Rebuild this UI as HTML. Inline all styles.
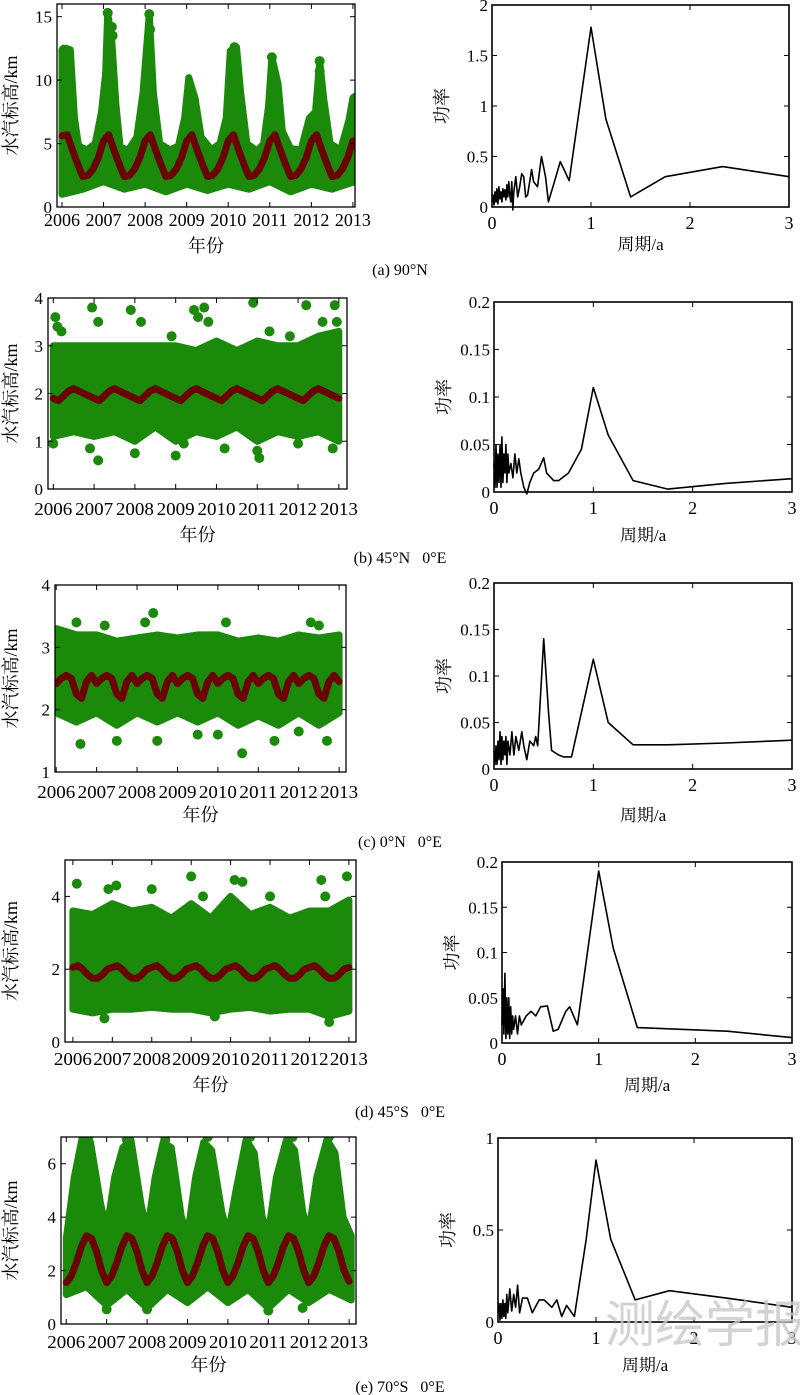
<!DOCTYPE html>
<html><head><meta charset="utf-8">
<style>
html,body{margin:0;padding:0;background:#fff;}
svg{display:block;}
text{font-family:"Liberation Serif","Noto Serif CJK SC",serif;fill:#000;}
</style></head>
<body>
<svg id="fig" width="800" height="1395" viewBox="0 0 800 1395" xmlns="http://www.w3.org/2000/svg"></svg>
<script>
// ---------- data ----------
const years = [2006,2007,2008,2009,2010,2011,2012,2013];
const redA = [5.6,5.7,4.5,3.4,2.4,2.5,3.0,3.9, 5.2,5.7,4.5,3.4,2.4,2.5,3.0,3.9, 5.2,5.7,4.5,3.4,2.4,2.5,3.0,3.9, 5.2,5.7,4.5,3.4,2.4,2.5,3.0,3.9, 5.2,5.7,4.5,3.4,2.4,2.5,3.0,3.9, 5.2,5.7,4.5,3.4,2.4,2.5,3.0,3.9, 5.2,5.7,4.5,3.4,2.4,2.5,3.0,3.9, 5.2];
const upperA = [[2006.0,12.4],[2006.1,12.5],[2006.2,12.4],[2006.3,7],[2006.4,4.8],[2006.6,4.5],[2006.8,5],[2006.95,7.5],[2007.05,10.5],[2007.1,15.3],[2007.2,13],[2007.3,8],[2007.4,4.7],[2007.6,4.5],[2007.8,5.5],[2007.95,9],[2008.1,15.2],[2008.2,9],[2008.35,5],[2008.6,4.5],[2008.8,4.8],[2008.95,7],[2009.05,10.2],[2009.2,8.6],[2009.35,5.5],[2009.6,4.5],[2009.8,5],[2009.95,7],[2010.05,12.3],[2010.2,12.6],[2010.3,9],[2010.45,5],[2010.7,4.4],[2010.85,5],[2010.97,8],[2011.05,11.8],[2011.2,9.7],[2011.3,6],[2011.5,4.6],[2011.75,4.5],[2011.95,7],[2012.1,7.5],[2012.2,11.5],[2012.3,8.5],[2012.45,5],[2012.7,4.5],[2012.9,6.8],[2013.0,8.6],[2013.05,7]];
const lowerA = [[2006.0,1.0],[2006.5,1.4],[2007.0,2.0],[2007.5,1.4],[2008.0,1.8],[2008.5,1.2],[2009.0,1.8],[2009.5,1.3],[2010.0,1.8],[2010.5,1.4],[2011.0,2.0],[2011.5,1.2],[2012.0,1.8],[2012.5,1.4],[2013.05,2.0]];
const outA = [[2007.1,15.3],[2008.1,15.2],[2008.12,14],[2007.2,14.2],[2007.22,13.5],[2010.15,12.6],[2011.05,11.8],[2012.2,11.5],[2012.2,10.7],[2013.05,8.6],[2006.05,12.4]];

const redB = [1.9,1.85,1.95,2.05,2.1,2.05,2.0,1.95, 1.9,1.85,1.95,2.05,2.1,2.05,2.0,1.95, 1.9,1.85,1.95,2.05,2.1,2.05,2.0,1.95, 1.9,1.85,1.95,2.05,2.1,2.05,2.0,1.95, 1.9,1.85,1.95,2.05,2.1,2.05,2.0,1.95, 1.9,1.85,1.95,2.05,2.1,2.05,2.0,1.95, 1.9,1.85,1.95,2.05,2.1,2.05,2.0,1.95, 1.9];
const upperB = [[2006.0,3.0],[2006.5,3.0],[2007.0,3.0],[2007.5,3.0],[2008.0,3.0],[2008.5,3.0],[2009.0,3.0],[2009.5,2.9],[2010.0,3.1],[2010.5,2.9],[2011.0,3.1],[2011.5,3.0],[2012.0,3.0],[2012.5,3.2],[2013.0,3.3]];
const lowerB = [[2006.0,1.1],[2006.5,1.2],[2007.0,1.1],[2007.5,1.2],[2008.0,1.0],[2008.5,1.3],[2009.0,1.0],[2009.5,1.2],[2010.0,1.1],[2010.5,1.3],[2011.0,1.0],[2011.5,1.2],[2012.0,1.1],[2012.5,1.2],[2013.0,1.0]];
const outB = [[2006.05,3.6],[2006.1,3.4],[2006.2,3.3],[2006.95,3.8],[2007.1,3.5],[2007.9,3.75],[2008.15,3.5],[2008.9,3.2],[2009.45,3.75],[2009.55,3.6],[2009.7,3.8],[2009.8,3.5],[2010.9,3.9],[2011.3,3.3],[2011.8,3.2],[2012.2,3.85],[2012.6,3.5],[2012.9,3.85],[2012.95,3.5],[2006.0,0.95],[2006.9,0.85],[2007.1,0.6],[2008.0,0.75],[2009.0,0.7],[2009.2,0.95],[2010.2,0.85],[2011.05,0.65],[2011.0,0.8],[2012.0,0.95],[2012.85,0.85]];

const redC = [2.42,2.5,2.55,2.5,2.25,2.18,2.45,2.55, 2.42,2.5,2.55,2.5,2.25,2.18,2.45,2.55, 2.42,2.5,2.55,2.5,2.25,2.18,2.45,2.55, 2.42,2.5,2.55,2.5,2.25,2.18,2.45,2.55, 2.42,2.5,2.55,2.5,2.25,2.18,2.45,2.55, 2.42,2.5,2.55,2.5,2.25,2.18,2.45,2.55, 2.42,2.5,2.55,2.5,2.25,2.18,2.45,2.55, 2.45];
const upperC = [[2006.0,3.3],[2006.5,3.2],[2007.0,3.2],[2007.5,3.1],[2008.0,3.15],[2008.5,3.2],[2009.0,3.15],[2009.5,3.2],[2010.0,3.2],[2010.5,3.1],[2011.0,3.15],[2011.5,3.1],[2012.0,3.2],[2012.5,3.15],[2013.0,3.2]];
const lowerC = [[2006.0,1.95],[2006.5,1.8],[2007.0,1.95],[2007.5,1.75],[2008.0,1.95],[2008.5,1.8],[2009.0,1.95],[2009.5,1.8],[2010.0,1.95],[2010.5,1.75],[2011.0,1.9],[2011.5,1.75],[2012.0,1.95],[2012.5,1.75],[2013.0,1.95]];
const outC = [[2006.5,3.4],[2007.2,3.35],[2008.4,3.55],[2008.2,3.4],[2010.2,3.4],[2012.3,3.4],[2012.5,3.35],[2006.6,1.45],[2007.5,1.5],[2008.5,1.5],[2009.5,1.6],[2010.0,1.6],[2010.6,1.3],[2011.4,1.5],[2012.0,1.65],[2012.7,1.5]];

const redD = [2.05,2.1,2.0,1.85,1.75,1.75,1.85,2.0, 2.05,2.1,2.0,1.85,1.75,1.75,1.85,2.0, 2.05,2.1,2.0,1.85,1.75,1.75,1.85,2.0, 2.05,2.1,2.0,1.85,1.75,1.75,1.85,2.0, 2.05,2.1,2.0,1.85,1.75,1.75,1.85,2.0, 2.05,2.1,2.0,1.85,1.75,1.75,1.85,2.0, 2.05,2.1,2.0,1.85,1.75,1.75,1.85,2.0, 2.05];
const upperD = [[2006.0,3.6],[2006.5,3.5],[2007.0,3.8],[2007.5,3.6],[2008.0,3.7],[2008.5,3.4],[2009.0,3.8],[2009.5,3.4],[2010.0,4.0],[2010.5,3.5],[2011.0,3.7],[2011.5,3.4],[2012.0,3.6],[2012.5,3.6],[2013.0,3.9]];
const lowerD = [[2006.0,0.9],[2006.5,0.8],[2007.0,0.9],[2007.5,0.9],[2008.0,0.95],[2008.5,0.9],[2009.0,0.9],[2009.5,0.8],[2010.0,0.9],[2010.5,0.95],[2011.0,0.85],[2011.5,0.9],[2012.0,0.9],[2012.5,0.7],[2013.0,0.85]];
const outD = [[2006.1,4.35],[2006.9,4.2],[2007.1,4.3],[2008.0,4.2],[2009.0,4.55],[2009.3,4.0],[2010.1,4.45],[2010.3,4.4],[2011.0,4.0],[2012.3,4.45],[2012.4,4.0],[2012.95,4.55],[2006.8,0.65],[2009.6,0.7],[2012.5,0.55]];

const redE = [1.55,1.8,2.3,2.9,3.3,3.2,2.7,2.0, 1.55,1.8,2.3,2.9,3.3,3.2,2.7,2.0, 1.55,1.8,2.3,2.9,3.3,3.2,2.7,2.0, 1.55,1.8,2.3,2.9,3.3,3.2,2.7,2.0, 1.55,1.8,2.3,2.9,3.3,3.2,2.7,2.0, 1.55,1.8,2.3,2.9,3.3,3.2,2.7,2.0, 1.55,1.8,2.3,2.9,3.3,3.2,2.7,2.0, 1.6];
const upperE = [[2006.0,3.2],[2006.2,5.5],[2006.4,7],[2006.6,6.8],[2006.85,4.5],[2007.0,3.5],[2007.2,5.5],[2007.4,6.6],[2007.6,6.9],[2007.85,4.5],[2008.0,3.4],[2008.2,5.5],[2008.4,6.8],[2008.6,6.6],[2008.85,4],[2009.0,3.3],[2009.2,5.5],[2009.4,6.8],[2009.6,6.5],[2009.85,4.2],[2010.0,3.3],[2010.2,5],[2010.45,6.9],[2010.65,6.4],[2010.85,4],[2011.0,3.4],[2011.2,5.5],[2011.45,6.9],[2011.65,6.5],[2011.85,4.2],[2012.0,3.4],[2012.2,5.5],[2012.45,6.9],[2012.65,6.4],[2012.85,4],[2013.05,3.3]];
const lowerE = [[2006.0,1.1],[2006.5,1.4],[2007.0,0.7],[2007.5,1.3],[2008.0,0.6],[2008.5,1.3],[2009.0,0.8],[2009.5,1.4],[2010.0,0.8],[2010.5,1.3],[2011.0,0.6],[2011.5,1.3],[2012.0,0.8],[2012.5,1.3],[2013.05,0.9]];
const outE = [[2006.55,7],[2007.5,6.9],[2008.45,6.9],[2009.5,7],[2010.55,7],[2011.6,7],[2012.5,7],[2007.0,0.55],[2008.0,0.55],[2011.0,0.5],[2011.85,0.6]];

const perA = [0,0.01,0.02,0.03,0.04,0.05,0.06,0.07,0.08,0.09,0.1,0.11,0.12,0.13,0.14,0.15,0.16,0.17,0.18,0.19,0.2,0.21,0.22,0.24,0.26,0.28,0.3,0.32,0.34,0.36,0.4,0.42,0.46,0.5,0.54,0.57,0.63,0.69,0.78,1.0,1.15,1.4,1.75,2.33,3.0];
const powA = [0.05,0.12,0.02,0.15,0.05,0.18,0.03,0.2,0.08,0.15,0.05,0.18,0.1,0.17,0.07,0.22,0.1,0.25,0.12,0.05,0.25,-0.03,0.15,0.3,0.1,0.2,0.33,0.3,0.1,0.12,0.37,0.25,0.2,0.5,0.3,0.05,0.25,0.45,0.26,1.78,0.87,0.1,0.3,0.4,0.3];
const perB = [0,0.01,0.02,0.03,0.04,0.05,0.06,0.07,0.08,0.09,0.1,0.11,0.12,0.13,0.14,0.15,0.17,0.19,0.21,0.23,0.25,0.27,0.3,0.33,0.36,0.4,0.45,0.5,0.53,0.6,0.65,0.75,0.88,1.0,1.15,1.4,1.75,2.33,3.0];
const powB = [0.03,0.005,0.05,0.005,0.04,0.01,0.05,0.005,0.058,0.01,0.04,0.02,0.05,0.01,0.04,0.02,0.03,0.015,0.04,0.02,0.035,0.02,0.005,-0.002,0.01,0.02,0.024,0.036,0.02,0.012,0.012,0.02,0.045,0.11,0.06,0.012,0.003,0.009,0.014];
const perC = [0,0.01,0.02,0.03,0.04,0.05,0.06,0.07,0.08,0.09,0.1,0.11,0.12,0.13,0.14,0.16,0.18,0.2,0.22,0.25,0.28,0.3,0.33,0.36,0.4,0.42,0.44,0.5,0.55,0.58,0.65,0.7,0.78,1.0,1.15,1.4,1.75,2.33,3.0];
const powC = [0.02,0.005,0.025,0.005,0.03,0.01,0.04,0.005,0.035,0.01,0.03,0.015,0.035,0.005,0.03,0.015,0.04,0.015,0.035,0.02,0.04,0.025,0.01,0.03,0.025,0.035,0.025,0.14,0.06,0.02,0.015,0.013,0.013,0.118,0.05,0.026,0.026,0.028,0.031];
const perD = [0,0.01,0.02,0.03,0.04,0.05,0.06,0.07,0.08,0.09,0.1,0.11,0.12,0.14,0.16,0.18,0.2,0.25,0.3,0.35,0.4,0.47,0.53,0.58,0.66,0.7,0.78,1.0,1.15,1.4,2.33,3.0];
const powD = [0.02,0.06,0.01,0.077,0.005,0.05,0.01,0.05,0.005,0.04,0.01,0.03,0.015,0.03,0.01,0.03,0.02,0.03,0.035,0.03,0.04,0.041,0.013,0.015,0.035,0.04,0.02,0.19,0.105,0.017,0.013,0.006];
const perE = [0,0.01,0.02,0.03,0.04,0.05,0.06,0.07,0.08,0.09,0.1,0.12,0.14,0.16,0.18,0.2,0.22,0.25,0.3,0.35,0.42,0.47,0.55,0.6,0.65,0.7,0.78,0.9,1.0,1.15,1.4,1.75,2.33,3.0];
const powE = [0.05,0.1,0.01,0.1,0.02,0.12,0.03,0.1,0.02,0.15,0.05,0.18,0.06,0.15,0.08,0.2,0.05,0.13,0.13,0.05,0.12,0.12,0.08,0.12,0.03,0.09,0.03,0.45,0.88,0.45,0.12,0.17,0.13,0.08];

const yTicksA=[0,5,10,15], yTicksB=[0,1,2,3,4], yTicksC=[1,2,3,4], yTicksD=[0,2,4], yTicksE=[0,2,4,6];
const sTicksA=[0,0.5,1,1.5,2], sTicksBCD=[0,0.05,0.1,0.15,0.2], sTicksE=[0,0.5,1];
const sTickLblA=["0","0.5","1","1.5","2"], sTickLblBCD=["0","0.05","0.1","0.15","0.2"], sTickLblE=["0","0.5","1"];
const perTicks=[0,1,2,3];

// ---------- drawing ----------
const NS="http://www.w3.org/2000/svg";
const svg=document.getElementById('fig');
const defs=document.createElementNS(NS,'defs');svg.appendChild(defs);
function mk(tag,attrs,parent){const e=document.createElementNS(NS,tag);for(const k in attrs)e.setAttribute(k,attrs[k]);(parent||svg).appendChild(e);return e;}
function txt(s,x,y,size,anchor,parent,extra){const t=mk('text',Object.assign({x:x,y:y,'font-size':size,'text-anchor':anchor||'middle'},extra||{}),parent);t.textContent=s;return t;}

function scatterPanel(id,L,upper,lower,out,red,yt,tight){
  const g=mk('g',{});
  
  
  const cp=mk('clipPath',{id:'clip-'+id},defs);
  mk('rect',{x:L.x0,y:L.y0,width:L.x1-L.x0,height:L.y1-L.y0},cp);
  const X=v=>L.x0+(v-L.xmin)/(L.xmax-L.xmin)*(L.x1-L.x0);
  const Y=v=>L.y1-(v-L.vmin)/(L.vmax-L.vmin)*(L.y1-L.y0);
  const inner=mk('g',{'clip-path':'url(#clip-'+id+')'},g);
  let d='';
  upper.forEach((p,i)=>{d+=(i?'L':'M')+X(p[0]).toFixed(1)+' '+Y(p[1]).toFixed(1);});
  for(let i=lower.length-1;i>=0;i--)d+='L'+X(lower[i][0]).toFixed(1)+' '+Y(lower[i][1]).toFixed(1);
  d+='Z';
  const area=mk('path',{d:d,fill:'#1b8a0a',stroke:'#1b8a0a','stroke-width':7,'stroke-linejoin':'round'},inner);
  
  
  out.forEach(p=>{
    const c=mk('circle',{cx:X(p[0]),cy:Y(p[1]),r:5,fill:'#1b8a0a'},inner);
    
    
  });
  let rd='';
  red.forEach((v,i)=>{rd+=(i?'L':'M')+X(2006+i/8).toFixed(1)+' '+Y(v).toFixed(1);});
  const rl=mk('path',{d:rd,fill:'none',stroke:'#6a0404','stroke-width':7,'stroke-linecap':'round','stroke-linejoin':'round'},inner);
  
  
  const box=mk('rect',{x:L.x0,y:L.y0,width:L.x1-L.x0,height:L.y1-L.y0,fill:'none',stroke:'#000','stroke-width':1.3},g);
  
  
  yt.forEach(v=>{
    mk('line',{x1:L.x0,x2:L.x0+5,y1:Y(v),y2:Y(v),stroke:'#000'},g);
    mk('line',{x1:L.x1,x2:L.x1-5,y1:Y(v),y2:Y(v),stroke:'#000'},g);
    const t=txt(String(v),L.x0-5,Y(v)+6,17,'end',g);
    
    
  });
  years.forEach(v=>{
    mk('line',{x1:X(v),x2:X(v),y1:L.y1,y2:L.y1-5,stroke:'#000'},g);
    mk('line',{x1:X(v),x2:X(v),y1:L.y0,y2:L.y0+5,stroke:'#000'},g);
    const t=txt(String(v),X(v),L.yl,18,'middle',g,tight?{textLength:38,lengthAdjust:'spacingAndGlyphs'}:{});
    
    
  });
  const xl=txt('年份',(L.x0+L.x1)/2,L.xl,18,'middle',g);
  
  
  const cy=(L.y0+L.y1)/2;
  const yl=txt('水汽标高/km',17,cy,18,'middle',g,{transform:'rotate(-90 17 '+cy+')'});
  
  
}

function spectrumPanel(id,R,per,pow,ticks,lbls){
  const g=mk('g',{});
  
  
  const X=v=>R.x0+v/3*(R.x1-R.x0);
  const Y=v=>R.y1-v/R.vmax*(R.y1-R.y0);
  let d='';
  per.forEach((p,i)=>{d+=(i?'L':'M')+X(p).toFixed(1)+' '+Y(pow[i]).toFixed(1);});
  const ln=mk('path',{d:d,fill:'none',stroke:'#000','stroke-width':1.6,'stroke-linejoin':'round'},g);
  
  
  const box=mk('rect',{x:R.x0,y:R.y0,width:R.x1-R.x0,height:R.y1-R.y0,fill:'none',stroke:'#000','stroke-width':1.6},g);
  
  
  ticks.forEach((v,i)=>{
    mk('line',{x1:R.x0,x2:R.x0+5,y1:Y(v),y2:Y(v),stroke:'#000'},g);
    mk('line',{x1:R.x1,x2:R.x1-5,y1:Y(v),y2:Y(v),stroke:'#000'},g);
    const t=txt(lbls[i],R.x0-4,Y(v)+6,17,'end',g);
    
    
  });
  perTicks.forEach(v=>{
    mk('line',{x1:X(v),x2:X(v),y1:R.y1,y2:R.y1-5,stroke:'#000'},g);
    mk('line',{x1:X(v),x2:X(v),y1:R.y0,y2:R.y0+5,stroke:'#000'},g);
    const t=txt(String(v),X(v),R.y1+22,18,'middle',g);
    
    
  });
  const xl=txt('周期/a',(R.x0+R.x1)/2,R.xl,17,'middle',g);
  
  
  const cy=(R.y0+R.y1)/2, lx=R.x0-44;
  const yl=txt('功率',lx,cy,18,'middle',g,{transform:'rotate(-90 '+lx+' '+cy+')'});
  
  
}
function caption(s,y,name){const t=txt(s,400,y,16,'middle',svg,{'xml:space':'preserve',style:'white-space:pre'});}

scatterPanel('panel-a',{x0:57,x1:355,y0:4,y1:207,xmin:2005.88,xmax:2013.05,vmin:0,vmax:16,yl:226,xl:252},upperA,lowerA,outA,redA,yTicksA,false);
spectrumPanel('panel-a',{x0:492,x1:789,y0:5,y1:207,vmax:2,xl:250},perA,powA,sTicksA,sTickLblA);
caption('(a) 90°N',275,'caption-a');

scatterPanel('panel-b',{x0:48,x1:347,y0:298,y1:489,xmin:2005.87,xmax:2013.2,vmin:0,vmax:4,yl:515,xl:541},upperB,lowerB,outB,redB,yTicksB,true);
spectrumPanel('panel-b',{x0:494,x1:792,y0:302,y1:492,vmax:0.2,xl:541},perB,powB,sTicksBCD,sTickLblBCD);
caption('(b) 45°N   0°E',563,'caption-b');

scatterPanel('panel-c',{x0:55,x1:346,y0:585,y1:772,xmin:2005.97,xmax:2013.17,vmin:1,vmax:4,yl:798,xl:821},upperC,lowerC,outC,redC,yTicksC,true);
spectrumPanel('panel-c',{x0:494,x1:792,y0:583,y1:769,vmax:0.2,xl:821},perC,powC,sTicksBCD,sTickLblBCD);
caption('(c) 0°N   0°E',847,'caption-c');

scatterPanel('panel-d',{x0:65,x1:356,y0:860,y1:1042,xmin:2005.8,xmax:2013.18,vmin:0,vmax:5,yl:1065,xl:1091},upperD,lowerD,outD,redD,yTicksD,true);
spectrumPanel('panel-d',{x0:502,x1:792,y0:862,y1:1043,vmax:0.2,xl:1091},perD,powD,sTicksBCD,sTickLblBCD);
caption('(d) 45°S   0°E',1117,'caption-d');

scatterPanel('panel-e',{x0:61,x1:356,y0:1137,y1:1324,xmin:2005.87,xmax:2013.17,vmin:0,vmax:7,yl:1348,xl:1371},upperE,lowerE,outE,redE,yTicksE,true);
spectrumPanel('panel-e',{x0:498,x1:792,y0:1138,y1:1322,vmax:1,xl:1371},perE,powE,sTicksE,sTickLblE);
caption('(e) 70°S   0°E',1392,'caption-e');

const wm=txt('测绘学报',705,1342,50,'middle',svg,{style:'font-family:"Noto Sans CJK SC",sans-serif;fill:#c8c8c8;fill-opacity:0.8'});


</script>
</body></html>
